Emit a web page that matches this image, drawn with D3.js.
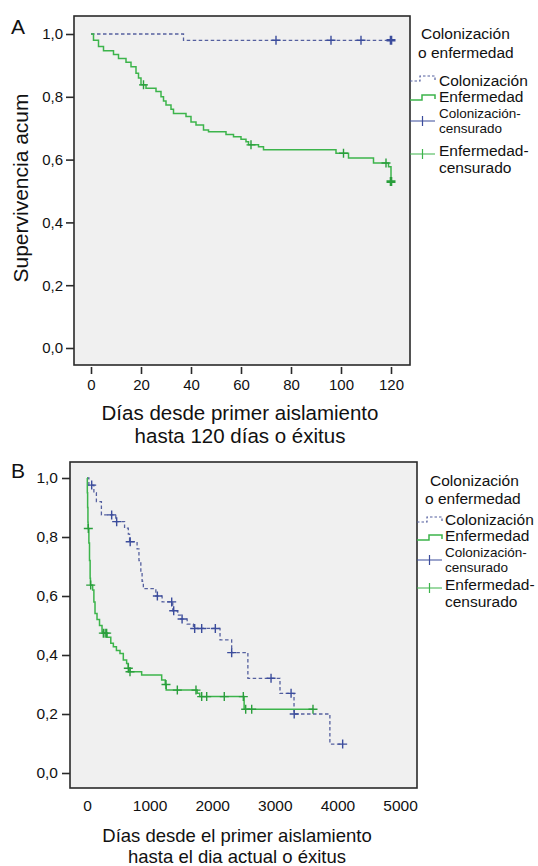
<!DOCTYPE html>
<html>
<head>
<meta charset="utf-8">
<script src="https://cdn.jsdelivr.net/npm/d3@7"></script>
<style>
  body { margin: 0; background: #fff; }
  svg text { font-family: "Liberation Sans", Arial, sans-serif; fill: #111; }
</style>
</head>
<body>
<div id="grafik"></div>
<script>
// ---- datos ----
// Panel A: hasta 120 días
const colA_t = [0, 37];
const colA_s = [1.0, 0.98];
const colA_end = 120;
const colA_cens = [74, 96, 108, 120, 120];

const enfA_t = [0, 1, 3, 5, 9, 11, 14, 16, 18, 19, 20, 22, 26, 28, 29, 30, 32, 33, 38, 40,
  42, 45, 47, 54, 57, 60, 62, 63, 67, 69, 98, 103, 113, 119, 120];
const enfA_s = [1.0, 0.98, 0.96, 0.947, 0.935, 0.922, 0.91, 0.896, 0.875, 0.86, 0.838, 0.827, 0.817, 0.80, 0.787, 0.774, 0.76, 0.747, 0.737, 0.72,
  0.71, 0.694, 0.689, 0.68, 0.673, 0.665, 0.657, 0.647, 0.641, 0.631, 0.62, 0.605, 0.589, 0.577, 0.53];
const enfA_end = 120;
const enfA_cens = [21, 64, 101, 118, 120, 120, 120];

// Panel B: hasta el día actual
const colB_t = [0, 30, 110, 150, 230, 460, 600, 660, 680, 800, 830, 860, 880, 900, 1100, 1200, 1370, 1450, 1500, 1600,
  1700, 2125, 2311, 2570, 3083, 3307, 3880];
const colB_s = [1.0, 0.976, 0.95, 0.92, 0.875, 0.852, 0.83, 0.81, 0.784, 0.76, 0.72, 0.68, 0.65, 0.625, 0.60, 0.58, 0.55, 0.535, 0.522, 0.505,
  0.49, 0.451, 0.408, 0.321, 0.27, 0.2, 0.098];
const colB_end = 4084;
const colB_cens = [75, 394, 474, 690, 1124, 1353, 1385, 1519, 1720, 1832, 2050, 2311, 2940, 3260, 3310, 4084];

const enfB_t = [0, 5, 10, 15, 18, 30, 40, 50, 55, 90, 110, 128, 160, 200, 240, 260, 320, 380, 421, 470,
  527, 580, 633, 660, 687, 873, 1193, 1250, 1265, 1760, 1800, 2510];
const enfB_s = [1.0, 0.95, 0.90, 0.85, 0.829, 0.78, 0.72, 0.66, 0.637, 0.62, 0.58, 0.541, 0.52, 0.50, 0.48, 0.474, 0.46, 0.44, 0.428, 0.415,
  0.405, 0.383, 0.371, 0.355, 0.343, 0.332, 0.315, 0.30, 0.281, 0.27, 0.259, 0.216];
const enfB_end = 3615;
const enfB_cens = [21, 59, 261, 290, 314, 660, 687, 1262, 1443, 1741, 1832, 1912, 2193, 2497, 2535, 2631, 3610];

const yTicks = [0, 0.2, 0.4, 0.6, 0.8, 1.0];
const xTicksA = [0, 20, 40, 60, 80, 100, 120];
const xTicksB = [0, 1000, 2000, 3000, 4000, 5000];

const legendTitle = ["Colonización", "o enfermedad"];
const legendItems = [["Colonización"], ["Enfermedad"], ["Colonización-", "censurado"], ["Enfermedad-", "censurado"]];

// ---- estilos ----
const GREEN = "#3cb44b", GREEN_D = "#2a9e3c", BLUE = "#55609f", BLUE_D = "#3b4c9c";

const svg = d3.select("#grafik").append("svg")
  .attr("width", 538).attr("height", 866);

const fmt = d => d3.format(".1f")(d).replace(".", ",");

function survAt(ts, ss, t) {
  const i = d3.bisectRight(ts, t) - 1;
  return ss[Math.max(0, i)];
}

function drawPanel(p) {
  const g = svg.append("g");
  const x = d3.scaleLinear().domain(p.xDomain).range(p.xRange);
  const y = d3.scaleLinear().domain([0, 1]).range(p.yRange);

  g.append("rect")
    .attr("x", p.frame[0]).attr("y", p.frame[1])
    .attr("width", p.frame[2] - p.frame[0]).attr("height", p.frame[3] - p.frame[1])
    .attr("fill", "#f0f0f0").attr("stroke", "#2a2a2a").attr("stroke-width", 1.6);

  // eje y
  const ay = g.append("g")
    .attr("transform", `translate(${p.frame[0]},0)`)
    .call(d3.axisLeft(y).tickValues(yTicks).tickFormat(fmt).tickSize(8).tickPadding(p.yPad));
  ay.select(".domain").remove();
  ay.selectAll("line").attr("stroke", "#2a2a2a").attr("stroke-width", 1.6);
  ay.selectAll("text").style("font-size", p.tickFont + "px").attr("fill", "#111");

  // eje x
  const ax = g.append("g")
    .attr("transform", `translate(0,${p.xAxisY})`)
    .call(d3.axisBottom(x).tickValues(p.xTicks).tickFormat(d3.format("d")).tickSize(p.xTickSize).tickPadding(p.xPad));
  ax.select(".domain").remove();
  ax.selectAll("line").attr("stroke", "#2a2a2a").attr("stroke-width", 1.6);
  ax.selectAll("text").style("font-size", p.tickFont + "px").attr("fill", "#111");

  const line = d3.line().x(d => x(d[0])).y(d => y(d[1])).curve(d3.curveStepAfter);

  p.series.forEach(s => {
    const pts = s.t.map((t, i) => [t, s.s[i]]);
    pts.push([s.end, s.s[s.s.length - 1]]);
    g.append("path")
      .attr("d", line(pts))
      .attr("fill", "none")
      .attr("stroke", s.color)
      .attr("stroke-width", s.width)
      .attr("stroke-dasharray", s.dash || null);

    const counts = d3.rollup(s.cens, v => v.length, d => d);
    g.append("g").selectAll("path")
      .data(Array.from(counts))
      .join("path")
      .attr("d", d => {
        const cx = x(d[0]), cy = y(survAt(s.t, s.s, d[0]));
        return `M${cx - 4.5},${cy}H${cx + 4.5}M${cx},${cy - 4.5}V${cy + 4.5}`;
      })
      .attr("stroke", s.censColor)
      .attr("stroke-width", d => d[1] > 1 ? 2.6 : 1.4)
      .attr("fill", "none");
  });

  // letra del panel
  g.append("text").attr("x", 11).attr("y", p.letterY)
    .style("font-size", "21px").text(p.letter);

  // título del eje x
  p.xTitle.forEach((t, i) => {
    g.append("text")
      .attr("x", p.xTitleX).attr("y", p.xTitleY[i])
      .attr("text-anchor", "middle")
      .style("font-size", p.xTitleFont + "px")
      .text(t);
  });

  if (p.yTitle) {
    g.append("text")
      .attr("transform", `translate(28,${p.yTitleC}) rotate(-90)`)
      .attr("text-anchor", "middle")
      .style("font-size", "21px")
      .text(p.yTitle);
  }

  // leyenda
  const L = p.legend;
  legendTitle.forEach((t, i) => {
    g.append("text").attr("x", L.titleX[i]).attr("y", L.titleY[i])
      .style("font-size", "15.5px").text(t);
  });
  legendItems.forEach((lines, k) => {
    lines.forEach((t, j) => {
      g.append("text").attr("x", L.textX).attr("y", L.itemY[k][j])
        .style("font-size", (k === 2 ? 13.5 : 15.5) + "px").text(t);
    });
  });
  const sx = L.symX, sw = 25, sy = L.symY;
  // colonización: escalón discontinuo
  g.append("path")
    .attr("d", `M${sx},${sy[0]}h10v-5h${sw - 10}v4`)
    .attr("fill", "none").attr("stroke", BLUE).attr("stroke-width", 1.2).attr("stroke-dasharray", "2.5,2");
  // enfermedad: escalón continuo
  g.append("path")
    .attr("d", `M${sx},${sy[1]}h12v-5h${sw - 12}v4`)
    .attr("fill", "none").attr("stroke", GREEN).attr("stroke-width", 1.5);
  // censurados
  [[sy[2], BLUE_D], [sy[3], GREEN]].forEach(([yy, c]) => {
    g.append("path")
      .attr("d", `M${sx},${yy}h${sw}M${sx + sw / 2},${yy - 5}v10`)
      .attr("fill", "none").attr("stroke", c).attr("stroke-width", 1.2);
  });
}

drawPanel({
  letter: "A", letterY: 34,
  xDomain: [0, 120], xRange: [91, 391], yRange: [348, 34],
  frame: [74, 16, 410, 365],
  xTicks: xTicksA, xAxisY: 367, xTickSize: 7, xPad: 5, yPad: 3, tickFont: 15,
  xTitle: ["Días desde primer aislamiento", "hasta 120 días o éxitus"],
  xTitleX: 240, xTitleY: [420, 443], xTitleFont: 20.5,
  yTitle: "Supervivencia acum", yTitleC: 188,
  series: [
    { t: colA_t, s: colA_s, end: colA_end, cens: colA_cens, color: BLUE, width: 1.3, dash: "3.5,2.5", censColor: BLUE_D },
    { t: enfA_t, s: enfA_s, end: enfA_end, cens: enfA_cens, color: GREEN, width: 1.5, censColor: GREEN_D }
  ],
  legend: {
    titleX: [421, 418], titleY: [39, 58], textX: 439,
    itemY: [[86], [102], [118, 133], [156, 173]],
    symX: 410, symY: [81, 100, 121, 154]
  }
});

drawPanel({
  letter: "B", letterY: 478,
  xDomain: [0, 5000], xRange: [87, 400], yRange: [773, 478],
  frame: [70, 462, 417, 788],
  xTicks: xTicksB, xAxisY: 788, xTickSize: 0, xPad: 12, yPad: 4, tickFont: 15.5,
  xTitle: ["Días desde el primer aislamiento", "hasta el dia actual o éxitus"],
  xTitleX: 237, xTitleY: [842, 863], xTitleFont: 18.5,
  yTitle: null,
  series: [
    { t: colB_t, s: colB_s, end: colB_end, cens: colB_cens, color: BLUE, width: 1.3, dash: "3.5,2.5", censColor: BLUE_D },
    { t: enfB_t, s: enfB_s, end: enfB_end, cens: enfB_cens, color: GREEN, width: 1.5, censColor: GREEN_D }
  ],
  legend: {
    titleX: [430, 425], titleY: [486, 504], textX: 445,
    itemY: [[525], [541], [557, 572], [590, 607]],
    symX: 417, symY: [522, 540, 560, 588]
  }
});
</script>
</body>
</html>
